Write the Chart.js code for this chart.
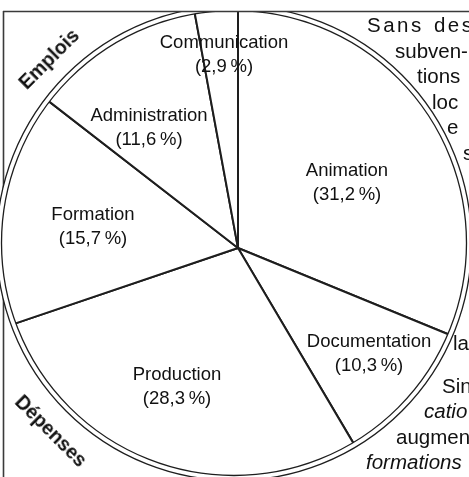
<!DOCTYPE html>
<html lang="fr">
<head>
<meta charset="utf-8">
<script src="https://cdn.jsdelivr.net/npm/chart.js@4.4.1/dist/chart.umd.min.js"></script>
<style>
  html, body { margin: 0; padding: 0; background: #fff; }
  body {
    width: 469px; height: 477px; overflow: hidden; position: relative;
    font-family: "Liberation Sans", Arial, sans-serif; color: #111;
  }
  #pie { position: absolute; left: -62px; top: -52px; }
  .side { position: absolute; font-size: 20.5px; line-height: 1; white-space: nowrap; transform: translateY(-50%); }
  .corner {
    position: absolute; font-weight: bold; font-size: 19.5px; white-space: nowrap;
    transform: translate(-50%, -50%) rotate(-45deg);
  }
</style>
</head>
<body>
<canvas id="pie" width="600" height="600"></canvas>

<div class="corner" style="left:49px; top:59px;">Emplois</div>
<div class="corner" style="left:51px; top:431px; transform: translate(-50%, -50%) rotate(45deg);">Dépenses</div>

<div class="side" style="left:367px; top:25px; letter-spacing:2.5px; word-spacing:2px;">Sans des</div>
<div class="side" style="left:395px; top:51px;">subven-</div>
<div class="side" style="left:417px; top:76px;">tions</div>
<div class="side" style="left:432px; top:102px;">loc</div>
<div class="side" style="left:447px; top:127px;">e</div>
<div class="side" style="left:463px; top:153px;">s</div>
<div class="side" style="left:453px; top:343px;">la</div>
<div class="side" style="left:442px; top:386px;">Sin</div>
<div class="side" style="left:424px; top:411px;"><i>catio</i></div>
<div class="side" style="left:396px; top:437px;">augmen</div>
<div class="side" style="left:366px; top:462px;"><i>formations</i></div>

<script>
// slices clockwise from the top
const categories = ['Animation', 'Documentation', 'Production', 'Formation', 'Administration', 'Communication'];
const shares = [31.2, 10.3, 28.3, 15.7, 11.6, 2.9];

const ink = '#1e1e1e';

// where each caption sits, relative to the pie centre
const labelSpots = [
	[109, -65],
	[131, 106],
	[-61, 139],
	[-145, -21],
	[-89, -120],
	[-14, -193],
];

// the drawn outline is not quite centred on the point where the slices meet
const rim = { dx: -4, dy: -5, inner: 232.5, outer: 237.5 };

const fmt = (v) => '(' + v.toLocaleString('fr-FR') + '\u202F%)';

const circle = (ctx, x, y, r) => {
	ctx.beginPath();
	ctx.arc(x, y, r, 0, Math.PI * 2);
};

const framePlugin = {
	id: 'frame',
	beforeDatasetsDraw(chart) {
		const ctx = chart.ctx;
		const arc = chart.getDatasetMeta(0).data[0];
		const cx = arc.x + rim.dx;
		const cy = arc.y + rim.dy;

		// left edge of the box, hidden where the pie lies on it
		ctx.save();
		ctx.strokeStyle = '#3a3a3a';
		ctx.lineWidth = 1.6;
		ctx.beginPath();
		ctx.moveTo(65.5, 63);
		ctx.lineTo(65.5, 600);
		ctx.stroke();
		ctx.restore();

		// nothing above the top edge
		ctx.save();
		ctx.beginPath();
		ctx.rect(0, 63, 600, 537);
		ctx.clip();

		ctx.fillStyle = '#fff';
		circle(ctx, cx, cy, rim.outer);
		ctx.fill();
		ctx.strokeStyle = ink;
		ctx.lineWidth = 1.3;
		ctx.stroke();

		ctx.save();
		circle(ctx, cx, cy, rim.inner);
		ctx.clip();
	},
	afterDatasetsDraw(chart) {
		const ctx = chart.ctx;
		const arc = chart.getDatasetMeta(0).data[0];
		ctx.restore();

		ctx.strokeStyle = ink;
		ctx.lineWidth = 1.3;
		circle(ctx, arc.x + rim.dx, arc.y + rim.dy, rim.inner);
		ctx.stroke();
		ctx.restore();

		ctx.save();
		ctx.strokeStyle = '#3a3a3a';
		ctx.lineWidth = 1.6;
		ctx.beginPath();
		ctx.moveTo(65, 63.5);
		ctx.lineTo(600, 63.5);
		ctx.stroke();

		ctx.fillStyle = '#111';
		ctx.font = '18.5px "Liberation Sans", Arial, sans-serif';
		ctx.textAlign = 'center';
		ctx.textBaseline = 'middle';
		categories.forEach((name, i) => {
			const [dx, dy] = labelSpots[i];
			ctx.fillText(name, arc.x + dx, arc.y + dy - 12);
			ctx.fillText(fmt(shares[i]), arc.x + dx, arc.y + dy + 12);
		});
		ctx.restore();
	},
};

new Chart(document.getElementById('pie'), {
	type: 'pie',
	data: {
		labels: categories,
		datasets: [
			{
				data: shares,
				backgroundColor: '#fff',
				borderColor: ink,
				borderWidth: 2,
			},
		],
	},
	options: {
		responsive: false,
		animation: false,
		events: [],
		radius: 245,
		layout: { padding: 0 },
		plugins: {
			legend: { display: false },
			tooltip: { enabled: false },
		},
	},
	plugins: [framePlugin],
});
</script>
</body>
</html>
